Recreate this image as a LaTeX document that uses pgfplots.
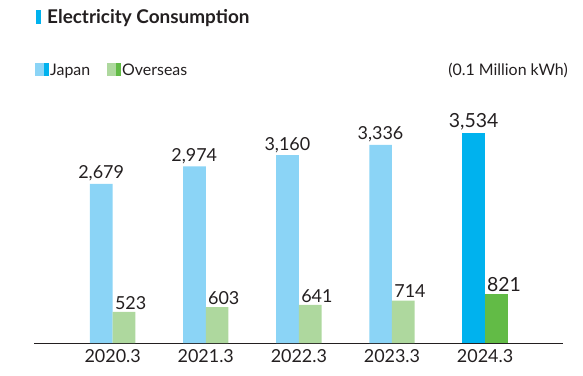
\documentclass[border=0pt]{standalone}
\usepackage{pgfplots}
\pgfplotsset{compat=1.18}
\usepackage{fontspec}
\setmainfont{Lato}
\definecolor{jpl}{HTML}{8BD4F6}
\definecolor{jpd}{HTML}{00B2EE}
\definecolor{ovl}{HTML}{AED89E}
\definecolor{ovd}{HTML}{62BB46}
\definecolor{txt}{HTML}{231F20}
\begin{document}
\begin{tikzpicture}[x=1bp,y=1bp]
\useasboundingbox (-34,-32) rectangle (549,343);
\begin{axis}[
  at={(0,0)}, anchor=south west,
  scale only axis, width=529bp, height=297.1bp,
  xmin=-0.845, xmax=4.837, ymin=0, ymax=5000,
  axis x line=bottom, axis y line=none,
  x axis line style={-, line width=0.8bp, color=txt},
  xtick={0,1,2,3,4},
  xticklabels={2020.3,2021.3,2022.3,2023.3,2024.3},
  major tick length=0pt,
  xticklabel style={font=\fontsize{18}{20}\selectfont, text=txt, yshift=-3bp},
  ytick=\empty,
  /pgf/number format/assume math mode=true,
  /pgf/number format/1000 sep={,},
  nodes near coords,
  every node near coord/.append style={font=\fontsize{18}{20}\selectfont, text=txt, inner sep=2.5bp},
  clip=false,
]
\addplot[ybar, bar width=0.244, bar shift=-0.122, draw=none, fill=jpl,
  every node near coord/.append style={xshift=-11.5bp}]
  coordinates {(0,2679) (1,2974) (2,3160) (3,3336)};
\addplot[ybar, bar width=0.244, bar shift=0.122, draw=none, fill=ovl,
  every node near coord/.append style={xshift=18bp}]
  coordinates {(0,523) (1,603) (2,641) (3,714)};
\addplot[ybar, bar width=0.244, bar shift=-0.122, draw=none, fill=jpd,
  every node near coord/.append style={font=\fontsize{19.5}{21}\selectfont, xshift=-11.5bp}]
  coordinates {(4,3534)};
\addplot[ybar, bar width=0.244, bar shift=0.122, draw=none, fill=ovd,
  every node near coord/.append style={font=\fontsize{19.5}{21}\selectfont, xshift=19bp}]
  coordinates {(4,821)};
\end{axis}
% title
\fill[jpd] (2,319) rectangle (7,333);
\node[anchor=base west, inner sep=0, text=txt, font=\fontsize{19}{21}\selectfont\bfseries] at (13,319.5) {Electricity Consumption};
% legend
\fill[jpl] (1,267) rectangle (10,280);
\fill[jpd] (10,267) rectangle (15,280);
\node[anchor=base west, inner sep=0, text=txt, font=\fontsize{16}{18}\selectfont] at (16,268) {Japan};
\fill[ovl] (73,267) rectangle (82,280);
\fill[ovd] (82,267) rectangle (87,280);
\node[anchor=base west, inner sep=0, text=txt, font=\fontsize{16}{18}\selectfont] at (88,268) {Overseas};
\node[anchor=base east, inner sep=0, text=txt, font=\fontsize{16}{18}\selectfont] at (534,268) {(0.1 Million kWh)};
\end{tikzpicture}
\end{document}
